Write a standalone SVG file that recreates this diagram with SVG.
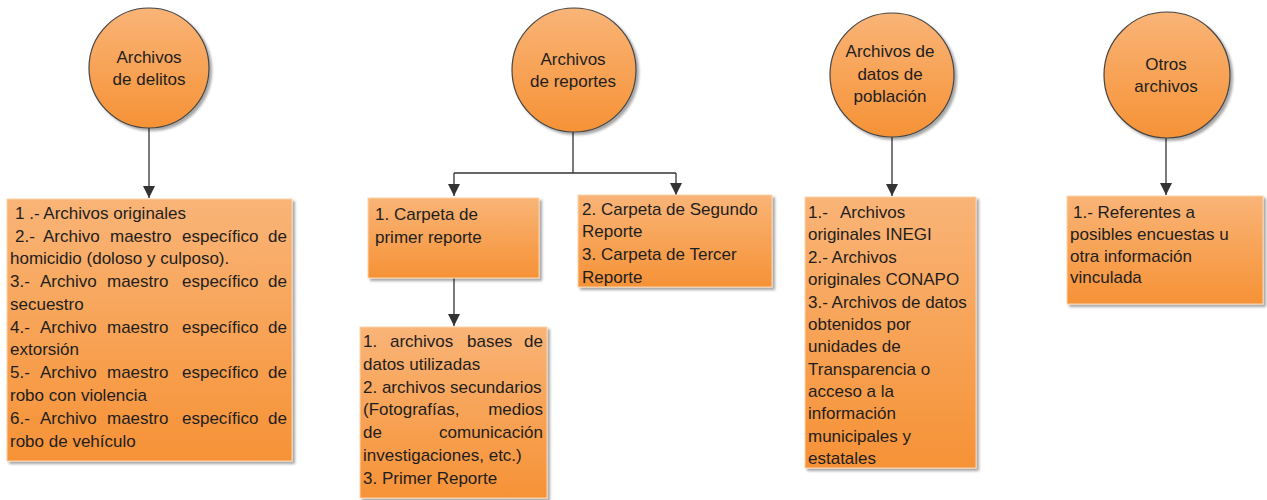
<svg xmlns="http://www.w3.org/2000/svg" width="1267" height="500" viewBox="0 0 1267 500">
<defs>
<linearGradient id="og" x1="0" y1="0" x2="0" y2="1">
<stop offset="0" stop-color="#F9B477"/>
<stop offset="1" stop-color="#F69236"/>
</linearGradient>
<filter id="sh" x="-10%" y="-10%" width="130%" height="130%">
<feDropShadow dx="2.5" dy="2.5" stdDeviation="1" flood-color="#000" flood-opacity="0.35"/>
</filter>
<marker id="ah" viewBox="0 0 12 12" refX="12" refY="6" markerWidth="12" markerHeight="12" markerUnits="userSpaceOnUse" orient="auto">
<path d="M0,0 L12,6 L0,12 z" fill="#333"/>
</marker>
<style>
.c{fill:url(#og);stroke:#444;stroke-width:1.2;filter:url(#sh)}
.b{fill:url(#og);stroke:#FBD3AC;stroke-width:1;filter:url(#sh)}
text{font-family:"Liberation Sans",Arial,sans-serif;font-size:17px;fill:#1e1e1e}
.m{text-anchor:middle}
.ln{fill:none;stroke:#333;stroke-width:1.3}
</style>
</defs>

<g id="connectors">
<line class="ln" x1="149" y1="128" x2="149" y2="198" marker-end="url(#ah)"/>
<polyline class="ln" points="573,132 573,173"/>
<polyline class="ln" points="454,173 676,173"/>
<line class="ln" x1="454" y1="173" x2="454" y2="196" marker-end="url(#ah)"/>
<line class="ln" x1="676" y1="173" x2="676" y2="195" marker-end="url(#ah)"/>
<line class="ln" x1="454" y1="278" x2="454" y2="326" marker-end="url(#ah)"/>
<line class="ln" x1="892" y1="137" x2="892" y2="196" marker-end="url(#ah)"/>
<line class="ln" x1="1166" y1="138" x2="1166" y2="195" marker-end="url(#ah)"/>
</g>

<g id="n-delitos">
<circle class="c" cx="149" cy="68" r="60"/>
<text class="m" x="149" y="63">Archivos</text>
<text class="m" x="149" y="85">de delitos</text>
</g>

<g id="n-reportes">
<circle class="c" cx="574" cy="70" r="62"/>
<text class="m" x="573" y="65">Archivos</text>
<text class="m" x="573" y="87">de reportes</text>
</g>

<g id="n-poblacion">
<circle class="c" cx="892" cy="75" r="62"/>
<text class="m" x="890" y="57">Archivos de</text>
<text class="m" x="890" y="80">datos de</text>
<text class="m" x="890" y="102">población</text>
</g>

<g id="n-otros">
<circle class="c" cx="1167" cy="75" r="63"/>
<text class="m" x="1166" y="70">Otros</text>
<text class="m" x="1166" y="92">archivos</text>
</g>

<g id="b-delitos">
<rect class="b" x="7" y="199" width="285" height="262"/>
<text x="15" y="219">1 .- Archivos originales</text>
<text y="242"><tspan x="15">2.-</tspan><tspan x="43">Archivo</tspan><tspan x="110">maestro</tspan><tspan x="182">específico</tspan><tspan x="268">de</tspan></text>
<text x="10" y="264">homicidio (doloso y culposo).</text>
<text y="287"><tspan x="10">3.-</tspan><tspan x="40">Archivo</tspan><tspan x="107">maestro</tspan><tspan x="182">específico</tspan><tspan x="268">de</tspan></text>
<text x="10" y="310">secuestro</text>
<text y="333"><tspan x="10">4.-</tspan><tspan x="40">Archivo</tspan><tspan x="107">maestro</tspan><tspan x="182">específico</tspan><tspan x="268">de</tspan></text>
<text x="10" y="355">extorsión</text>
<text y="378"><tspan x="10">5.-</tspan><tspan x="40">Archivo</tspan><tspan x="107">maestro</tspan><tspan x="182">específico</tspan><tspan x="268">de</tspan></text>
<text x="10" y="401">robo con violencia</text>
<text y="424"><tspan x="10">6.-</tspan><tspan x="40">Archivo</tspan><tspan x="107">maestro</tspan><tspan x="182">específico</tspan><tspan x="268">de</tspan></text>
<text x="10" y="447">robo de vehículo</text>
</g>

<g id="b-primer">
<rect class="b" x="368" y="198" width="171" height="80"/>
<text x="375" y="220">1. Carpeta de</text>
<text x="375" y="243">primer reporte</text>
</g>

<g id="b-segundo">
<rect class="b" x="578" y="195" width="194" height="92"/>
<text x="582" y="215">2. Carpeta de Segundo</text>
<text x="582" y="237">Reporte</text>
<text x="582" y="260">3. Carpeta de Tercer</text>
<text x="582" y="283">Reporte</text>
</g>

<g id="b-archivos">
<rect class="b" x="360" y="327" width="187" height="171"/>
<text y="347"><tspan x="363">1.</tspan><tspan x="390">archivos</tspan><tspan x="467">bases</tspan><tspan x="524">de</tspan></text>
<text x="363" y="370">datos utilizadas</text>
<text x="363" y="393">2. archivos secundarios</text>
<text x="363" y="415">(Fotografías,</text>
<text x="543" y="415" text-anchor="end">medios</text>
<text x="363" y="438">de</text>
<text x="543" y="438" text-anchor="end">comunicación</text>
<text x="363" y="461">investigaciones, etc.)</text>
<text x="363" y="484">3. Primer Reporte</text>
</g>

<g id="b-poblacion">
<rect class="b" x="805" y="197" width="171" height="271"/>
<text y="218"><tspan x="808">1.-</tspan><tspan x="840">Archivos</tspan></text>
<text x="808" y="240">originales INEGI</text>
<text x="808" y="263">2.- Archivos</text>
<text x="808" y="285">originales CONAPO</text>
<text x="808" y="308">3.- Archivos de datos</text>
<text x="808" y="330">obtenidos por</text>
<text x="808" y="352">unidades de</text>
<text x="808" y="375">Transparencia o</text>
<text x="808" y="397">acceso a la</text>
<text x="808" y="419">información</text>
<text x="808" y="442">municipales y</text>
<text x="808" y="464">estatales</text>
</g>

<g id="b-otros">
<rect class="b" x="1067" y="196" width="196" height="108"/>
<text x="1073" y="218">1.- Referentes a</text>
<text x="1070" y="240">posibles encuestas u</text>
<text x="1070" y="262">otra información</text>
<text x="1070" y="283">vinculada</text>
</g>
</svg>
